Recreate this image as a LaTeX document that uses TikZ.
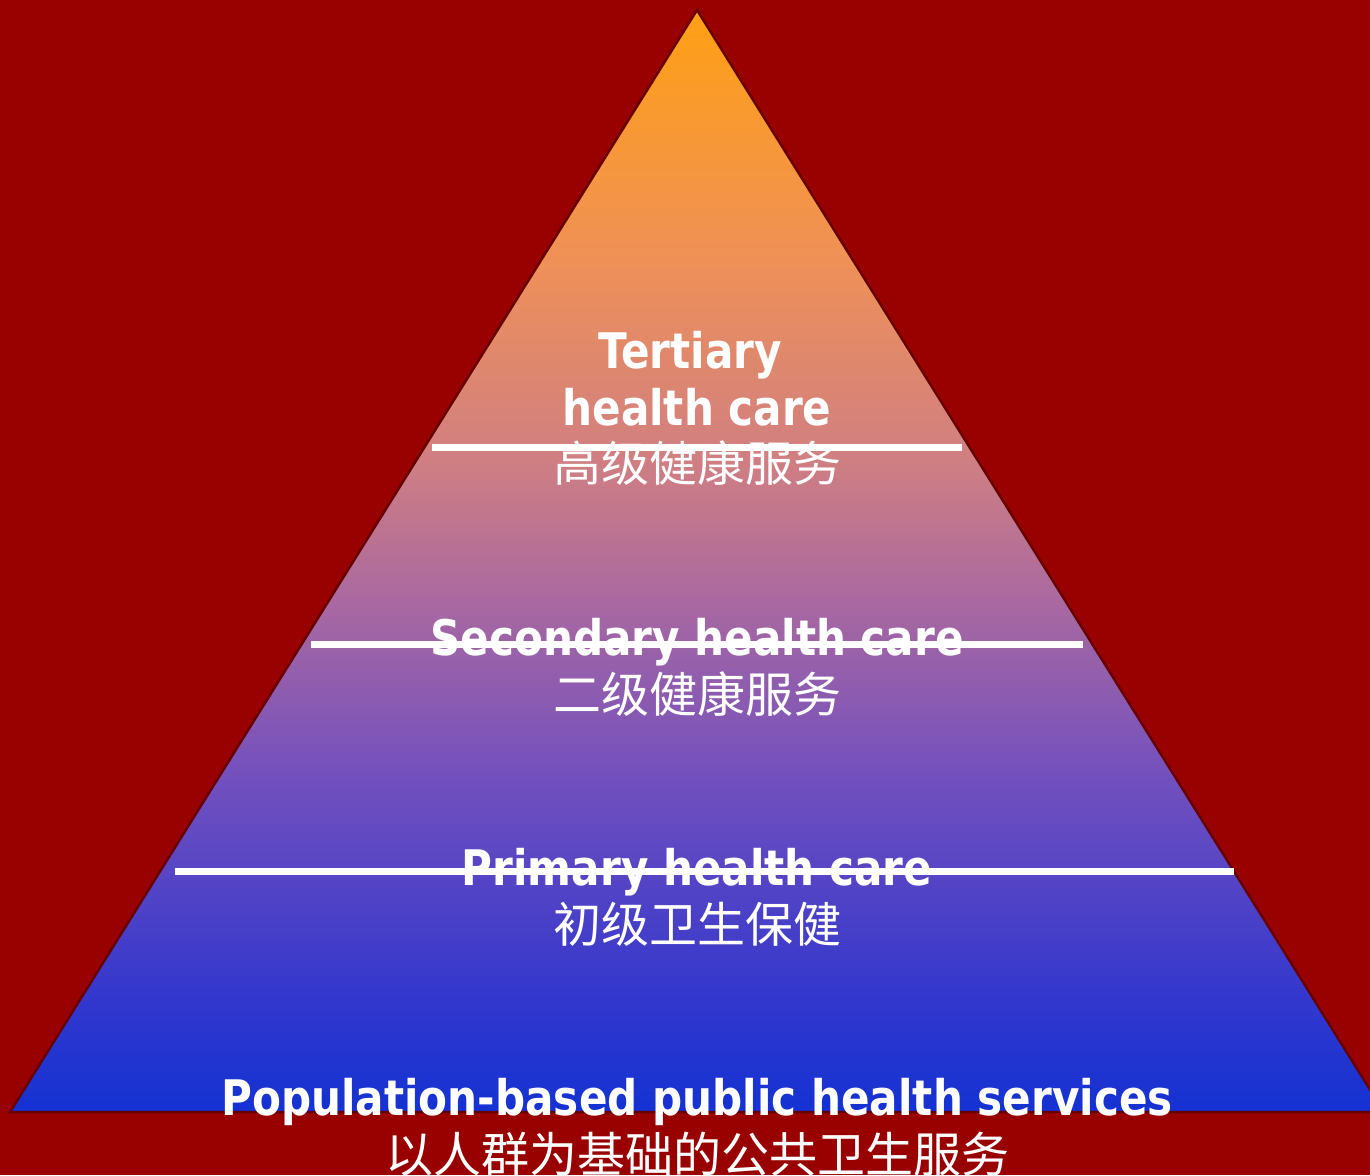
\documentclass[tikz,border=0pt]{standalone}
\usepackage{fontspec}
\usepackage{tikz}
\newfontfamily\enfont[FakeStretch=0.86]{DejaVu Sans}
\newfontfamily\zhfont{Noto Sans CJK SC}
\definecolor{PyrBack}{RGB}{153,0,0}
\definecolor{PyrEdge}{RGB}{105,0,0}
\definecolor{PyrColor1}{RGB}{255,160,20}
\definecolor{PyrColor2}{RGB}{240,145,85}
\definecolor{PyrColor3}{RGB}{210,128,128}
\definecolor{PyrColor4}{RGB}{170,105,160}
\definecolor{PyrColor5}{RGB}{115,80,190}
\definecolor{PyrColor6}{RGB}{50,55,205}
\definecolor{PyrColor7}{RGB}{20,50,210}
\pgfdeclareverticalshading{pyramid}{100bp}{color(0bp)=(PyrColor7); color(25bp)=(PyrColor7);
  color(30.08bp)=(PyrColor6); color(40.29bp)=(PyrColor5); color(48.23bp)=(PyrColor4);
  color(55.04bp)=(PyrColor3); color(64.11bp)=(PyrColor2); color(75bp)=(PyrColor1); color(100bp)=(PyrColor1)}

\begin{document}
\begin{tikzpicture}[x=1pt,y=-1pt,en/.style={font=\enfont\bfseries\fontsize{49}{57}\selectfont,text=white,anchor=base,inner sep=0pt},zh/.style={font=\zhfont\fontsize{48}{55}\selectfont,text=white,anchor=base,inner sep=0pt},bar/.style={white,line width=7pt}]
\fill[PyrBack] (0,0) rectangle (1370,1175);
\useasboundingbox (0,0) rectangle (1370,1175);
\shade[shading=pyramid,draw=PyrEdge,line width=2.5pt,line join=miter] (697,10) -- (10,1112) -- (1384,1112) -- cycle;
\node[en](en3a) at (690,368) {Tertiary};
\node[en](en3b) at (697,425) {health care};
\node[zh](zh3) at (697,481) {高级健康服务};
\foreach \y/\1/\2/\n in %
{655/Secondary health care/二级健康服务/2,885/Primary health care/初级卫生保健/1,1115/Population-based public health services/以人群为基础的公共卫生服务/0} {
   \node[en](en\n) at (697,\y) {\1};
   \node[zh](zh\n) at (697,\y+57) {\2};
}
\foreach \a/\b/\y in %
{432/962/447,311/1083/644,175/1234/871} {
   \draw[bar] (\a,\y) -- (\b,\y);
}
\end{tikzpicture}
\end{document}
